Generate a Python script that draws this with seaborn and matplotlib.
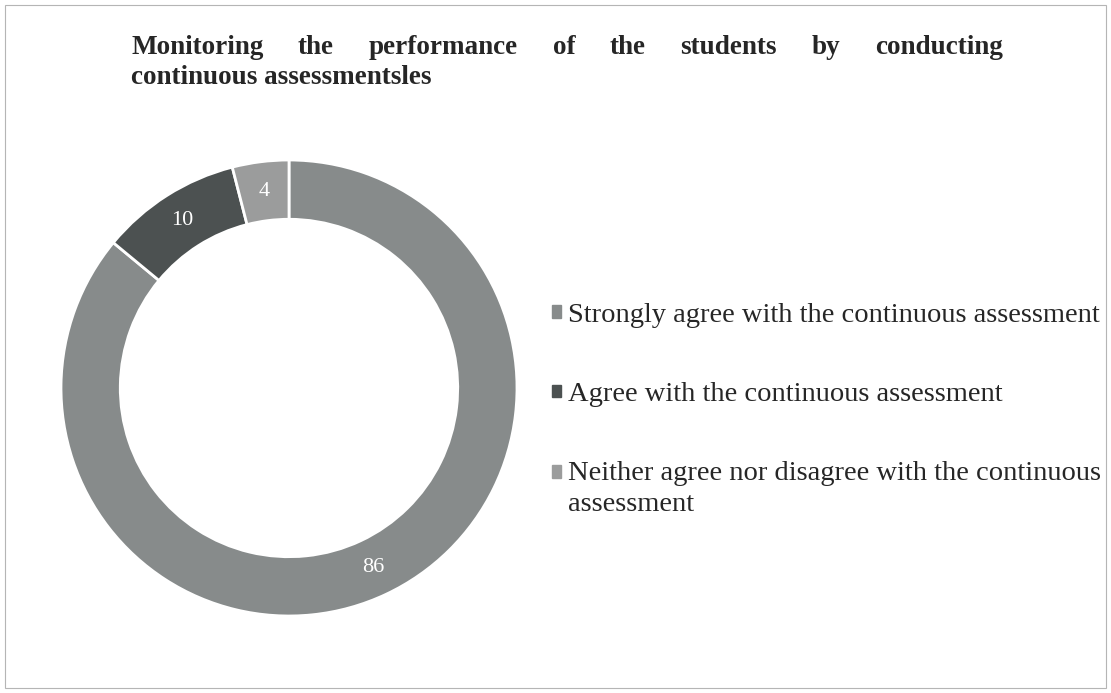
import matplotlib
matplotlib.use("Agg")
import matplotlib.pyplot as plt
from matplotlib.patches import Patch, Rectangle
import seaborn as sns

title_line1 = "Monitoring the performance of the students by conducting"
title_line2 = "continuous assessmentsles"

categories = [
    "Strongly agree with the continuous assessment",
    "Agree with the continuous assessment",
    "Neither agree nor disagree with the continuous\nassessment",
]
values = [86, 10, 4]
colors = ["#878b8b", "#4c5151", "#9b9c9c"]

sns.set_theme(style="white")
plt.rcParams["font.family"] = ["Liberation Serif", "DejaVu Serif"]

fig = plt.figure(figsize=(11.11, 6.93), dpi=100)
fig.patch.set_facecolor("white")

# donut
ax = fig.add_axes([61 / 1111, 77 / 693, 456 / 1111, 456 / 693])
wedges, texts = ax.pie(
    values, colors=sns.color_palette(colors), startangle=90, counterclock=False,
    radius=1.0, wedgeprops=dict(width=0.26, edgecolor="white", linewidth=2),
    labels=[str(v) for v in values], labeldistance=0.87,
)
for t in texts:
    t.set_color("white")
    t.set_fontsize(16)
    t.set_ha("center")
    t.set_va("center")
ax.set_xlim(-1, 1)
ax.set_ylim(-1, 1)
ax.set_aspect("equal")
ax.axis("off")

# legend
handles = [Patch(facecolor=c, edgecolor=c) for c in colors]
leg = fig.legend(
    handles, categories, loc="upper left", bbox_to_anchor=(552 / 1111, 1 - 303 / 693),
    frameon=False, fontsize=20.5, handlelength=0.3, handleheight=0.3,
    handletextpad=0.25, labelspacing=1.9, borderpad=0, borderaxespad=0,
)
for txt in leg.get_texts():
    txt.set_linespacing(1.3)
# keep the last marker level with the first line of its wrapped label
last = leg.legend_handles[-1]
last.set_y(last.get_y() + 12)

# title, first line justified like the original
fig.canvas.draw()
r = fig.canvas.get_renderer()
words = title_line1.split()
x0, x1 = 131 / 1111, 1003 / 1111
ytitle = 1 - 47 / 693
tobjs = [fig.text(0, ytitle, w, fontsize=19.5, fontweight="bold", va="center") for w in words]
widths = [fig.transFigure.inverted().transform_bbox(t.get_window_extent(r)).width for t in tobjs]
gap = (x1 - x0 - sum(widths)) / (len(words) - 1)
x = x0
for t, w in zip(tobjs, widths):
    t.set_x(x)
    x += w + gap
fig.text(x0, 1 - 78 / 693, title_line2, fontsize=19.5, fontweight="bold", va="center")

# thin frame round the figure
fig.patches.append(Rectangle((5 / 1111, 5 / 693), 1101 / 1111, 683 / 693, transform=fig.transFigure,
                             fill=False, edgecolor="#b5b5b5", linewidth=0.8))

fig.savefig("out.png", dpi=100)
